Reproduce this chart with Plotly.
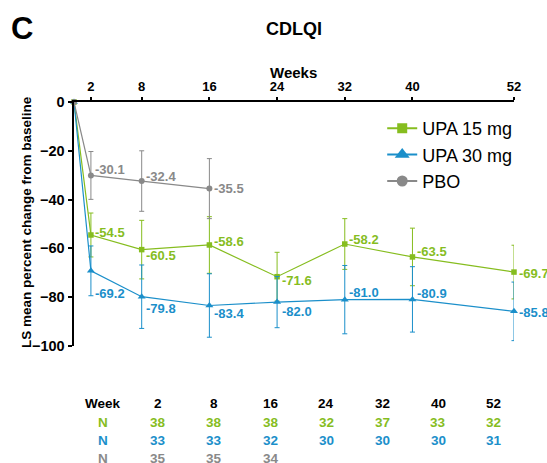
import plotly.graph_objects as go

# ---- data ----
weeks = [0, 2, 8, 16, 24, 32, 40, 52]
pbo_weeks = [0, 2, 8, 16]

upa15 = [0, -54.5, -60.5, -58.6, -71.6, -58.2, -63.5, -69.7]
upa15_err = [0, 9.0, 12.0, 11.6, 10.0, 10.4, 11.8, 11.0]
upa30 = [0, -69.2, -79.8, -83.4, -82.0, -81.0, -80.9, -85.8]
upa30_err = [0, 10.2, 13.0, 13.0, 10.5, 14.0, 13.4, 12.0]
pbo = [0, -30.1, -32.4, -35.5]
pbo_err = [0, 9.8, 12.4, 12.3]

table_weeks = ["2", "8", "16", "24", "32", "40", "52"]
n_upa15 = ["38", "38", "38", "32", "37", "33", "32"]
n_upa30 = ["33", "33", "32", "30", "30", "30", "31"]
n_pbo = ["35", "35", "34"]

# ---- style ----
# vertical offset (px, positive = down) of each value label from its point
upa15_dy = [0, -2, 6, -3, 4, -5, -5.5, 1]
upa30_dy = [0, 23, 11.5, 7.7, 9.4, -7, -5.6, 1]
pbo_dy = [0, -6, -5, 0]

GREEN = "#86bd1f"
BLUE = "#1b8fca"
GRAY = "#898989"
FONT = "Arial, Liberation Sans, sans-serif"

W, H = 547, 463
L, R, T, B = 74, 33.3, 102, 117
pw, ph = W - L - R, H - T - B

fig = go.Figure()
annotations = []


def add(name, x, y, err, color, symbol, msize, lsize, dys):
    fig.add_trace(go.Scatter(
        x=x, y=y, name=name, mode="lines+markers", showlegend=False,
        line=dict(color=color, width=1.2),
        marker=dict(symbol=symbol, size=msize, color=color),
        error_y=dict(type="data", array=err, color=color, thickness=1, width=2.5),
        cliponaxis=False,
    ))
    # legend-only entry with bigger marker
    fig.add_trace(go.Scatter(
        x=[None], y=[None], name=name, mode="lines+markers",
        line=dict(color=color, width=2),
        marker=dict(symbol=symbol, size=lsize, color=color),
    ))
    for xi, yi, dy in zip(x[1:], y[1:], dys[1:]):
        annotations.append(dict(
            x=xi, y=yi, xref="x", yref="y", text=f"{yi:.1f}", showarrow=False,
            xanchor="left", yanchor="middle", xshift=2.5, yshift=-dy,
            font=dict(size=13, color=color, family=FONT, weight="bold")))


add("UPA 15 mg", weeks, upa15, upa15_err, GREEN, "square", 5.5, 10, upa15_dy)
add("UPA 30 mg", weeks, upa30, upa30_err, BLUE, "triangle-up", 7, 13, upa30_dy)
add("PBO", pbo_weeks, pbo, pbo_err, GRAY, "circle", 6, 11, pbo_dy)


def px(x):
    return (x - L) / pw


def py(y):
    return (H - B - y) / ph


def ann(text, x, y, size, color="black", angle=0):
    annotations.append(dict(text=text, x=px(x), y=py(y), xref="paper", yref="paper",
                            showarrow=False, xanchor="center", yanchor="middle",
                            textangle=angle,
                            font=dict(size=size, color=color, family=FONT, weight="bold")))


ann("C", 22, 29, 31)
ann("CDLQI", 294, 28.6, 18)
ann("Weeks", 293.5, 72, 15)
ann("LS mean percent change from baseline", 26, 222, 13.5, angle=-90)

col_x = [157.7, 214, 270.7, 326, 382.3, 438, 493.3]
row_y = [403.3, 422.3, 440.3, 458.7]
ann("Week", 103.3, row_y[0], 13.5)
ann("N", 103.3, row_y[1], 13.5, GREEN)
ann("N", 103.3, row_y[2], 13.5, BLUE)
ann("N", 103.3, row_y[3], 13.5, GRAY)
for i, w in enumerate(table_weeks):
    ann(w, col_x[i], row_y[0], 13.5)
    ann(n_upa15[i], col_x[i], row_y[1], 13.5, GREEN)
    ann(n_upa30[i], col_x[i], row_y[2], 13.5, BLUE)
for i, n in enumerate(n_pbo):
    ann(n, col_x[i], row_y[3], 13.5, GRAY)

fig.update_layout(
    width=W, height=H,
    margin=dict(l=L, r=R, t=T, b=B, autoexpand=False),
    plot_bgcolor="white", paper_bgcolor="white",
    font=dict(family=FONT, color="black"),
    annotations=annotations,
    showlegend=True,
    legend=dict(x=px(382), y=py(110), xanchor="left", yanchor="top",
                font=dict(size=18, family=FONT, color="black"),
                bgcolor="rgba(0,0,0,0)", tracegroupgap=0),
    xaxis=dict(
        range=[0, 52], side="top", showline=True, linecolor="black", linewidth=2,
        tickvals=[2, 8, 16, 24, 32, 40, 52], ticks="outside", ticklen=3.5,
        tickwidth=2, tickcolor="black", showgrid=False, zeroline=False,
        automargin=False,
        tickfont=dict(size=13, family=FONT, weight="bold"),
    ),
    yaxis=dict(
        range=[-100, 0], showline=True, linecolor="black", linewidth=2,
        tickvals=[-100, -80, -60, -40, -20, 0], ticks="outside", ticklen=4.5,
        tickwidth=2, tickcolor="black", showgrid=False, zeroline=False,
        automargin=False,
        tickfont=dict(size=14.5, family=FONT, weight="bold"),
    ),
)

fig.write_html("out.html", config={"displayModeBar": False},
               post_script="document.body.style.margin='0';document.body.style.overflow='hidden';")
